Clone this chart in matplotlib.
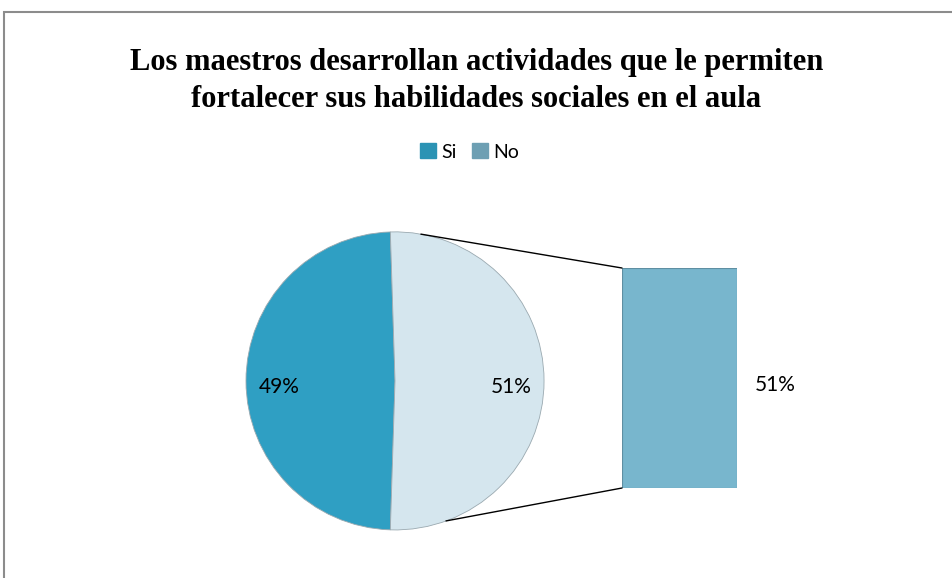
import matplotlib.pyplot as plt
from matplotlib.patches import ConnectionPatch, Rectangle
import numpy as np

# data
labels = ["Si", "No"]
values = [49, 51]
bar_value = 51

pie_colors = ["#2f9fc3", "#d5e6ee"]
bar_color = "#78b6cd"
legend_colors = ["#2b93b4", "#6d9fb3"]

fig = plt.figure(figsize=(9.53, 5.78), dpi=100)

# outer frame like the Excel chart area
fig.patches.append(Rectangle((4 / 953, -0.1), 1.2, 0.1 + (578 - 12) / 578,
                             transform=fig.transFigure, fill=False,
                             edgecolor="#8c8c8c", linewidth=1.5))

fig.text(0.5, 0.86, "Los maestros desarrollan actividades que le permiten\n"
         "fortalecer sus habilidades sociales en el aula",
         ha="center", va="center", fontsize=22, fontweight="bold",
         family="Liberation Serif", linespacing=1.4)

# pie: "Si" on the left, "No" on the right
ax = fig.add_axes([0.255, 0.078, 0.319, 0.526])
start = 180 - values[0] / 100 * 180
wedges, _ = ax.pie(values, colors=pie_colors, startangle=start, radius=1,
                   wedgeprops=dict(edgecolor="#9aa9b0", linewidth=0.6))
for w, v in zip(wedges, values):
    ang = np.deg2rad((w.theta1 + w.theta2) / 2)
    ax.text(0.78 * np.cos(ang), 0.78 * np.sin(ang) - 0.04, f"{v}%",
            ha="center", va="center", fontsize=15, family="Lato")
ax.set_xlim(-1.02, 1.02)
ax.set_ylim(-1.02, 1.02)
ax.set_aspect("equal")

# bar of the "No" part
bx = fig.add_axes([0.6527, 0.1557, 0.1207, 0.3806])
bx.bar([0], [bar_value], width=1, color=bar_color, edgecolor="#5f8fa2", linewidth=0.8)
bx.set_xlim(-0.5, 0.5)
bx.set_ylim(0, bar_value)
bx.axis("off")
bx.text(0.83, bar_value * 0.47, f"{bar_value}%", ha="center", va="center",
        fontsize=15, family="Lato", transform=bx.transData, clip_on=False)

# connector lines
for ang, yb in [(80, bar_value), (-70, 0)]:
    a = np.deg2rad(ang)
    con = ConnectionPatch(xyA=(np.cos(a), np.sin(a)), coordsA=ax.transData,
                          xyB=(-0.5, yb), coordsB=bx.transData,
                          color="black", linewidth=1)
    fig.add_artist(con)

# legend
handles = [plt.Rectangle((0, 0), 1, 1, color=c) for c in legend_colors]
fig.legend(handles, labels, loc="center", bbox_to_anchor=(0.493, 0.737),
           ncol=2, frameon=False, prop={"family": "Lato", "size": 14},
           handlelength=0.8, handleheight=0.8, handletextpad=0.3,
           columnspacing=0.8)

fig.savefig("out.png", dpi=100)
